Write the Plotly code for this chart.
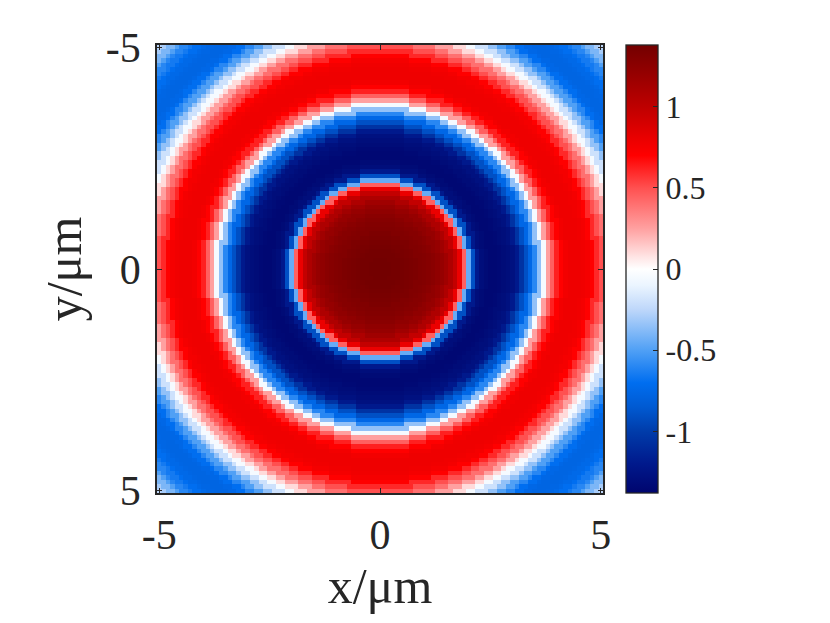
import numpy as np
import plotly.graph_objects as go

# radial profile of the field, read every 0.1 um from the centre outwards (r = 0 ... 7.1)
r_step = 0.1
profile = [
    1.38, 1.38, 1.38, 1.37, 1.37, 1.36, 1.35, 1.34, 1.33, 1.31,   # 0.0 - 0.9
    1.30, 1.28, 1.26, 1.23, 1.20, 1.15, 1.08, 0.98, 0.80, 0.45,   # 1.0 - 1.9
    -0.45, -0.90, -1.20, -1.30, -1.33, -1.35, -1.35, -1.34, -1.32, -1.30,  # 2.0 - 2.9
    -1.27, -1.20, -1.05, -0.90, -0.75, -0.60, -0.35, -0.05, 0.25, 0.45,  # 3.0 - 3.9
    0.62, 0.70, 0.76, 0.78, 0.78, 0.78, 0.77, 0.75, 0.70, 0.60,   # 4.0 - 4.9
    0.50, 0.40, 0.25, 0.10, -0.05, -0.20, -0.35, -0.50, -0.60, -0.70,  # 5.0 - 5.9
    -0.75, -0.77, -0.77, -0.76, -0.74, -0.70, -0.65, -0.60, -0.50, -0.40,  # 6.0 - 6.9
    -0.30, -0.25,  # 7.0 - 7.1
]

x_um = np.linspace(-5, 5, 101)
y_um = np.linspace(-5, 5, 101)

# colour table (value -> rgb), taken off the colour bar
cbar_min, cbar_max = -1.38, 1.38
color_vals = [-1.38, -1.2, -1.0, -0.85, -0.7, -0.5, -0.25, -0.1, 0.0, 0.07, 0.25, 0.5, 0.7, 0.8, 1.0, 1.2, 1.38]
color_rgb = [
    'rgb(0,5,110)', 'rgb(0,25,140)', 'rgb(0,60,170)', 'rgb(0,90,210)', 'rgb(0,110,240)',
    'rgb(80,160,245)', 'rgb(190,215,250)', 'rgb(235,245,255)', 'rgb(255,255,255)',
    'rgb(255,230,230)', 'rgb(255,160,160)', 'rgb(255,80,80)', 'rgb(255,0,0)',
    'rgb(235,0,0)', 'rgb(190,0,0)', 'rgb(150,0,0)', 'rgb(115,0,0)',
]
colorscale = [[(v - cbar_min) / (cbar_max - cbar_min), c] for v, c in zip(color_vals, color_rgb)]

# build the map: each cell takes the profile sample at its radius
xx, yy = np.meshgrid(x_um, y_um)
idx = np.clip(np.rint(np.hypot(xx, yy) / r_step).astype(int), 0, len(profile) - 1)
z = np.array(profile)[idx]

serif = 'Liberation Serif, Times New Roman, serif'
axis_col = '#262626'

fig = go.Figure()
fig.add_trace(go.Heatmap(
    x=x_um, y=y_um, z=z,
    zmin=cbar_min, zmax=cbar_max,
    colorscale=colorscale,
    colorbar=dict(
        x=1.0516, xanchor='left', xpad=0, ypad=0,
        y=0.5, yanchor='middle', len=1.0, lenmode='fraction',
        thickness=32, thicknessmode='pixels',
        outlinecolor=axis_col, outlinewidth=1.3,
        tickvals=[-1, -0.5, 0, 0.5, 1],
        ticktext=['-1', '-0.5', '0', '0.5', '1'],
        ticks='inside', ticklen=5, tickcolor=axis_col,
        tickfont=dict(family=serif, size=32, color='#262626'),
    ),
))

fig.update_layout(
    width=830, height=623,
    margin=dict(l=149, r=235, t=37, b=138),
    paper_bgcolor='white', plot_bgcolor='white',
    font=dict(family=serif, color='#262626'),
    xaxis=dict(
        range=[-5.05, 5.05], tickvals=[-5, 0, 5], ticktext=['-5', '0', '5'],
        ticks='inside', ticklen=5, tickcolor=axis_col,
        showline=True, linecolor=axis_col, linewidth=1.5, mirror='ticks',
        showgrid=False, zeroline=False,
        tickfont=dict(size=42), ticklabelstandoff=4,
        title=dict(text='x/μm', font=dict(size=50), standoff=6),
    ),
    yaxis=dict(
        range=[5.05, -5.05], tickvals=[-5, 0, 5], ticktext=['-5', '0', '5'],
        ticks='inside', ticklen=5, tickcolor=axis_col,
        showline=True, linecolor=axis_col, linewidth=1.5, mirror='ticks',
        showgrid=False, zeroline=False,
        tickfont=dict(size=42), ticklabelstandoff=6,
        title=dict(text='y/μm', font=dict(size=50), standoff=8),
    ),
)

fig.write_html("out.html")
